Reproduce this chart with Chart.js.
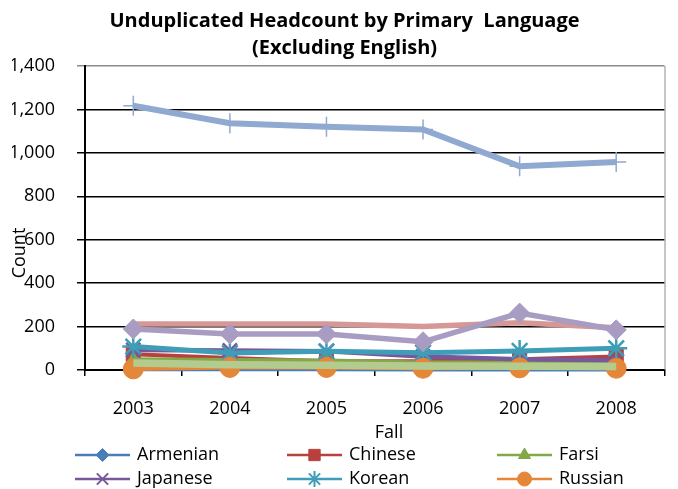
<!DOCTYPE html>
<html><head><meta charset="utf-8">
<script src="https://cdn.jsdelivr.net/npm/chart.js@4/dist/chart.umd.min.js"></script>
<style>html,body{margin:0;padding:0;background:#fff;}#wrap{width:678px;height:489px;}</style>
</head><body><div id="wrap"><canvas id="c" width="678" height="489"></canvas></div>
<script>
// ---- data ----
const years = ['2003', '2004', '2005', '2006', '2007', '2008'];
const armenian = [4, 3, 3, 2, 2, 2];
const chinese = [72, 55, 40, 40, 50, 62];
const farsi = [48, 45, 43, 33, 33, 30];
const japanese = [92, 90, 86, 62, 50, 45];
const korean = [108, 78, 86, 80, 88, 100];
const russian = [5, 12, 12, 8, 10, 8];
const spanish = [1217, 1136, 1120, 1108, 938, 958];
const tagalog = [212, 212, 212, 200, 218, 195];
const vietnamese = [32, 24, 22, 18, 17, 16];
const other = [189, 166, 166, 130, 262, 185];
const yTickValues = [0, 200, 400, 600, 800, 1000, 1200, 1400];
const titleLines = ['Unduplicated Headcount by Primary  Language', '(Excluding English)'];
const yAxisTitle = 'Count';
const xAxisTitle = 'Fall';

const FONT = '"Open Sans", sans-serif';

const series = [
  {label:'Armenian', data:armenian, color:'#4A7EBB', style:'rectRot', r:8, bw:1, lw:4, lg:{style:'rectRot', r:6.5}},
  {label:'Chinese', data:chinese, color:'#B8413E', style:'rect', r:10, bw:1, lw:4, lg:{style:'rect', r:8}},
  {label:'Farsi', data:farsi, color:'#84A848', style:'triangle', r:8, bw:1, lw:4.5, lg:{style:'triangle', r:7}},
  {label:'Japanese', data:japanese, color:'#77589A', style:'crossRot', r:10, bw:2.5, lw:4.5, lg:{style:'crossRot', r:8}},
  {label:'Korean', data:korean, color:'#3F9DB7', style:'star', r:11, bw:2.5, lw:5, lg:{style:'star', r:8}},
  {label:'Russian', data:russian, color:'#E48738', style:'circle', r:10, bw:1, lw:4, lg:{style:'circle', r:7}},
  {label:'Spanish', data:spanish, color:'#8FA9D1', style:'cross', r:10, bw:1.5, lw:6},
  {label:'Tagalog', data:tagalog, color:'#D69896', style:'line', r:0, bw:0, lw:5.5},
  {label:'Vietnamese', data:vietnamese, color:'#B4CB8F', style:'line', r:0, bw:0, lw:7.5},
  {label:'Other', data:other, color:'#A99CC2', style:'rectRot', r:10, bw:1, lw:5.5}
];

const datasets = series.map((s, i) => ({
  label: s.label,
  data: s.data,
  borderColor: s.color,
  backgroundColor: s.color,
  borderWidth: s.lw,
  pointStyle: s.style,
  pointRadius: s.r,
  pointHoverRadius: s.r,
  pointBorderWidth: s.bw,
  pointBorderColor: s.color,
  pointBackgroundColor: s.color,
  tension: 0,
  fill: false,
  clip: false,
  order: series.length - i
}));

const extras = {
  id: 'extras',
  afterDraw(chart) {
    const ctx = chart.ctx;
    const ca = chart.chartArea;
    ctx.save();
    // plot right border
    ctx.strokeStyle = '#8c8c8c';
    ctx.lineWidth = 1;
    ctx.beginPath();
    ctx.moveTo(ca.right + 0.5, ca.top);
    ctx.lineTo(ca.right + 0.5, ca.bottom);
    ctx.stroke();
    // axis titles
    ctx.fillStyle = '#000';
    ctx.font = '18px ' + FONT;
    ctx.textAlign = 'center';
    ctx.textBaseline = 'middle';
    ctx.fillText(xAxisTitle, 389, 433);
    ctx.save();
    ctx.translate(20, 253);
    ctx.rotate(-Math.PI / 2);
    ctx.fillText(yAxisTitle, 0, 0);
    ctx.restore();
    // legend
    const cols = [75, 287, 497];
    const rows = [455, 479];
    for (let i = 0; i < 6; i++) {
      const s = series[i];
      const x0 = cols[i % 3];
      const y = rows[Math.floor(i / 3)];
      ctx.strokeStyle = s.color;
      ctx.lineWidth = 2.5;
      ctx.beginPath();
      ctx.moveTo(x0, y);
      ctx.lineTo(x0 + 55, y);
      ctx.stroke();
      ctx.fillStyle = s.color;
      ctx.strokeStyle = s.color;
      ctx.lineWidth = (s.style === 'crossRot' || s.style === 'star') ? 2 : 1;
      Chart.helpers.drawPoint(ctx, {pointStyle: s.lg.style, radius: s.lg.r, rotation: 0, borderWidth: 1}, x0 + 27.5, y);
      ctx.fillStyle = '#000';
      ctx.textAlign = 'left';
      ctx.textBaseline = 'middle';
      ctx.font = '18px ' + FONT;
      ctx.fillText(s.label, x0 + 62, y);
    }
    ctx.restore();
  }
};

new Chart(document.getElementById('c'), {
  type: 'line',
  data: { labels: years, datasets },
  options: {
    responsive: false,
    animation: false,
    events: [],
    layout: { padding: { top: 0, left: 12, right: 1, bottom: 59 } },
    plugins: {
      legend: { display: false },
      tooltip: { enabled: false },
      title: {
        display: true,
        text: titleLines,
        color: '#000',
        font: { family: FONT, size: 20, weight: 'bold', lineHeight: 1.35 },
        padding: { top: 7.5, bottom: 4.5 }
      }
    },
    scales: {
      x: {
        type: 'category',
        offset: true,
        grid: { offset: true, drawOnChartArea: false, drawTicks: true, tickLength: 6, color: '#000', lineWidth: 1.5 },
        border: { color: '#000', width: 2 },
        ticks: { color: '#000', padding: 22, font: { family: FONT, size: 18 }, maxRotation: 0 },
        afterFit(scale) { scale.height = 60; }
      },
      y: {
        min: 0, max: 1400,
        afterBuildTicks(scale) { scale.ticks = yTickValues.map(v => ({ value: v })); },
        grid: {
          color: ctx => (ctx.tick && ctx.tick.value === 1400) ? '#8c8c8c' : '#000',
          lineWidth: 1.5, drawTicks: true, tickLength: 8
        },
        border: { color: '#000', width: 2 },
        ticks: { color: '#000', padding: 22, font: { family: FONT, size: 18 },
          callback: v => v.toLocaleString('en-US') },
        afterFit(scale) { scale.width = 73; }
      }
    }
  },
  plugins: [extras]
});
</script>
</body></html>
